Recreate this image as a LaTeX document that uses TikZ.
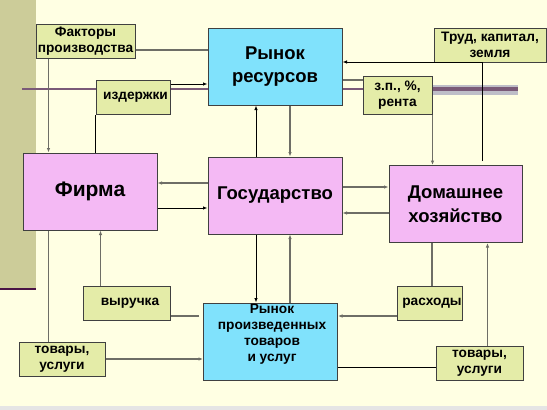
\documentclass[tikz,border=0pt]{standalone}
\usepackage{fontspec}
\setmainfont{Liberation Sans}
\usepackage{tikz}
\usetikzlibrary{arrows.meta,positioning}
\usepackage{xcolor}
\definecolor{slidebg}{HTML}{FFFFE3}
\definecolor{stripkhaki}{HTML}{CCCC99}
\definecolor{stripline}{HTML}{4A1446}
\definecolor{agentpink}{HTML}{F4B9F4}
\definecolor{marketblue}{HTML}{80E2FC}
\definecolor{tagyellow}{HTML}{E4ECA8}
\definecolor{flowgray}{HTML}{6E6E66}
\definecolor{decoline}{HTML}{7A5A78}
\definecolor{decoband}{HTML}{BEBEC8}

\begin{document}
\begin{tikzpicture}[
    x=1pt, y=-1pt,
    >={Latex[length=4.5pt,width=3.5pt]},
    box/.style={rectangle, draw=black!75, line width=1pt, inner sep=0pt, align=center},
    sz/.style 2 args={minimum width=#1pt, minimum height=#2pt},
    agent/.style={box, fill=agentpink, font=\bfseries\fontsize{18.5}{23.5}\selectfont},
    market/.style={box, fill=marketblue, font=\bfseries\fontsize{18.5}{23}\selectfont},
    tag/.style={box, fill=tagyellow, font=\bfseries\fontsize{13.7}{16}\selectfont},
    flow/.style={draw=flowgray, line width=1.4pt},
    thinflow/.style={draw=black, line width=0.8pt}
]
\useasboundingbox (0,0) rectangle (547,410);

% Slide background
\fill[slidebg] (0,0) rectangle (547,410);
\fill[stripkhaki] (0,0) rectangle (36,290);
\draw[stripline, line width=2.5pt] (0,289) -- (36,289);
\fill[black!10] (0,406) rectangle (547,410);
\fill[decoband] (432,84.5) rectangle (518,95);
\draw[decoline, line width=2pt] (22,89) -- (432,89);
\draw[decoline, line width=3.5pt] (432,89) -- (518,89);

% Markets
\node[market, sz={134}{77}] (resmkt) at (275,66.5) {Рынок\\ресурсов};
\node[market, sz={134}{77}] (goodsmkt) at (270.5,341.5) {};
\node[font=\bfseries\fontsize{13.7}{16}\selectfont, align=center] (goodstext) at (272,334.5)
    {Рынок\\произведенных\\товаров\\и услуг};

% Agents
\node[agent, sz={134}{77}, font=\bfseries\fontsize{21}{24}\selectfont] (firm) at (90,191.5) {Фирма};
\node[agent, sz={134}{77}] (state) at (275,195.5) {Государство};
\node[agent, sz={133}{77}] (home) at (455.5,204) {Домашнее\\хозяйство};

% Flow labels
\node[tag, sz={99}{34}] (factors) at (85.5,41) {Факторы\\производства};
\node[tag, sz={112}{34}] (inputs) at (490,45) {Труд, капитал,\\земля};
\node[tag, sz={74}{34}] (costs) at (133,97) {\hspace{5pt}издержки};
\node[tag, sz={69}{38}] (income) at (397.5,95) {з.п., \%,\\рента};
\node[tag, sz={87}{34}] (revenue) at (126.5,303) {\hspace{7pt}выручка};
\node[tag, sz={65}{34}] (spending) at (430,303) {\hspace{4pt}расходы};
\node[tag, sz={86}{34}] (goodsL) at (62,359) {товары,\\услуги};
\node[tag, sz={87}{34}] (goodsR) at (479.5,363) {товары,\\услуги};

% Resource market loop
\draw[flow] ([yshift=-9pt]factors.east) -- ([yshift=-9pt]factors.east -| resmkt.west);
\draw[flow,->] ([xshift=13pt]factors.south west) -- ([xshift=13pt]factors.south west |- firm.north);
\draw[thinflow] (costs.south west |- firm.north) -- (costs.south west);
\draw[thinflow,->] ([yshift=13pt]costs.east) -- ([yshift=13pt]costs.east -| resmkt.west);
\draw[thinflow,->] ([xshift=27pt,yshift=4pt]home.north) |- ([yshift=4.5pt]resmkt.east);
\draw[flow] ([yshift=-13.5pt]resmkt.east) -- ([yshift=-13.5pt]resmkt.east -| income.west);
\draw[flow,->] (income.south east) -- (income.south east |- home.north);

% State
\draw[flow,->] ([xshift=15pt]resmkt.south) -- ([xshift=15pt]state.north);
\draw[thinflow,->] ([xshift=-19pt]state.north) -- ([xshift=-19pt]resmkt.south);
\draw[flow,->] ([yshift=12.5pt]state.west) -- ([yshift=12.5pt]state.west -| firm.east);
\draw[thinflow,->] ([yshift=-12.5pt]state.west -| firm.east) -- ([yshift=-12.5pt]state.west);
\draw[flow,->] ([yshift=8.5pt]state.east) -- ([yshift=8.5pt]state.east -| home.west);
\draw[flow,->] ([yshift=-17.5pt]state.east -| home.west) -- ([yshift=-17.5pt]state.east);
\draw[thinflow,->] ([xshift=-19pt]state.south) -- ([xshift=-19pt]state.south |- goodsmkt.north);
\draw[flow,->] ([xshift=15pt]state.south |- goodsmkt.north) -- ([xshift=15pt]state.south);

% Goods market loop
\draw[flow] ([xshift=26pt]firm.south west) -- ([xshift=26pt]firm.south west |- goodsL.north);
\draw[flow,->] (goodsL.east) -- (goodsL.east -| goodsmkt.west);
\draw[flow] ([yshift=-13pt,xshift=-4pt]revenue.east -| goodsmkt.west) -- ([yshift=-13pt]revenue.east);
\draw[flow,->] ([xshift=18pt]revenue.north west) -- ([xshift=18pt]revenue.north west |- firm.south);
\draw[flow] ([xshift=-23.5pt]home.south) -- ([xshift=-23.5pt]home.south |- spending.north);
\draw[flow,->] ([yshift=-13pt]spending.west) -- ([yshift=-13pt]spending.west -| goodsmkt.east);
\draw[thinflow] ([yshift=-4.5pt]goodsR.west -| goodsmkt.east) -- ([yshift=-4.5pt]goodsR.west);
\draw[flow,->] ([xshift=8pt]goodsR.north) -- ([xshift=8pt]goodsR.north |- home.south);
\end{tikzpicture}
\end{document}
